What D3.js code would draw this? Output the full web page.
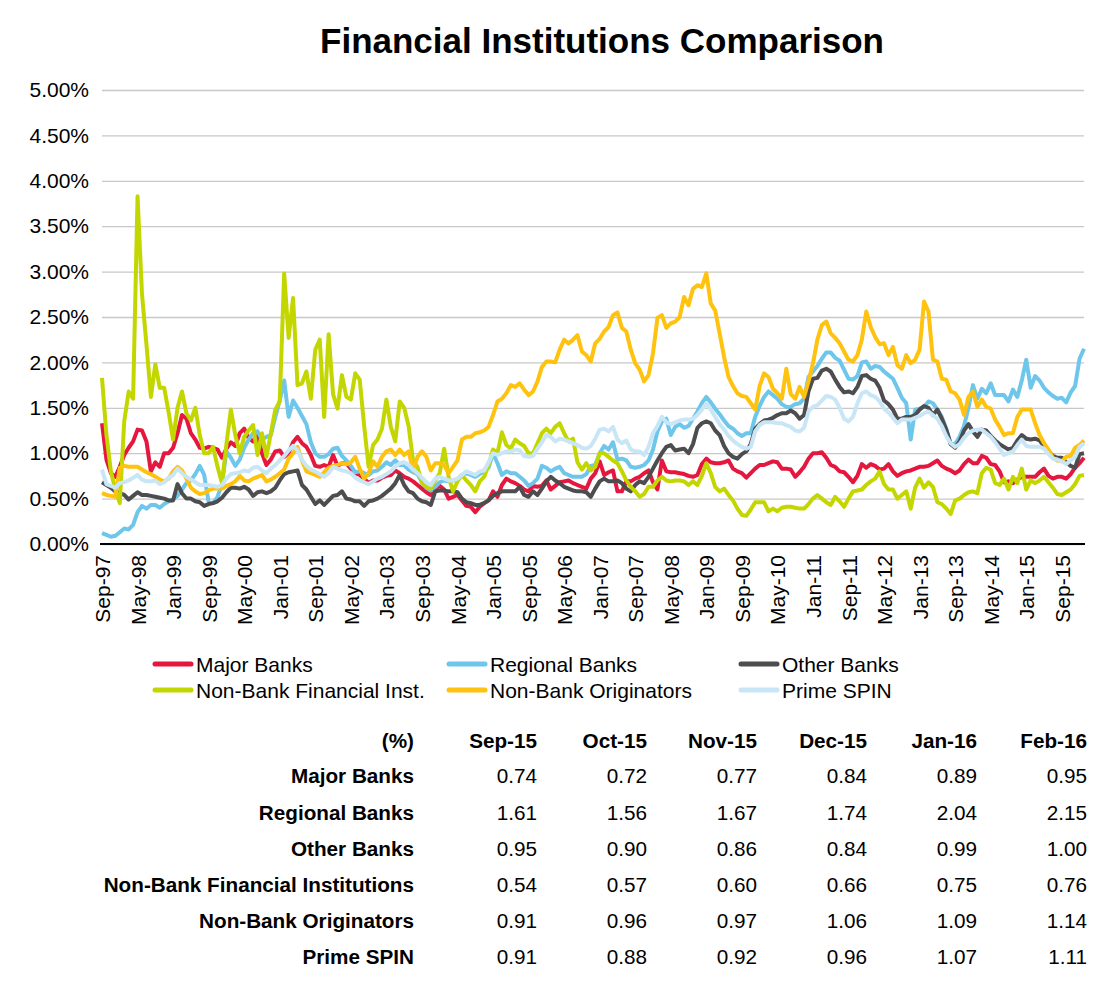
<!DOCTYPE html>
<html>
<head>
<meta charset="utf-8">
<script src="https://cdn.jsdelivr.net/npm/d3@7"></script>
<style>
  body { margin: 0; background: #fff; }
  svg { font-family: "Liberation Sans", Arial, sans-serif; }
</style>
</head>
<body>
<div id="chart"></div>
<script>
/*
 * Monthly values (%), Sep-97 .. Feb-16.
 */
var majorBanks = [
  1.33,0.93,0.78,0.74,0.85,0.98,1.06,1.13,1.26,1.25,
  1.13,0.80,0.90,0.85,1.00,1.00,1.06,1.22,1.42,1.38,
  1.22,1.15,1.06,1.05,1.07,1.06,1.04,0.95,1.05,1.12,
  1.08,1.22,1.27,1.17,1.13,1.19,1.00,0.87,0.93,1.02,
  1.03,0.96,1.00,1.12,1.18,1.11,1.07,0.98,0.86,0.85,
  0.87,0.85,0.98,0.86,0.89,0.89,0.83,0.78,0.76,0.72,
  0.67,0.70,0.70,0.73,0.75,0.76,0.81,0.78,0.74,0.72,
  0.69,0.65,0.61,0.57,0.54,0.61,0.64,0.60,0.50,0.52,
  0.54,0.48,0.42,0.41,0.35,0.41,0.45,0.48,0.58,0.52,
  0.65,0.72,0.69,0.67,0.64,0.60,0.58,0.64,0.63,0.64,
  0.70,0.60,0.64,0.68,0.69,0.70,0.67,0.65,0.63,0.61,
  0.72,0.78,0.91,0.76,0.79,0.81,0.58,0.58,0.69,0.69,
  0.72,0.74,0.78,0.81,0.68,0.60,0.92,0.80,0.79,0.79,
  0.78,0.77,0.75,0.74,0.76,0.88,0.94,0.90,0.89,0.89,
  0.90,0.92,0.83,0.80,0.78,0.73,0.78,0.83,0.87,0.87,
  0.89,0.91,0.90,0.83,0.83,0.82,0.74,0.79,0.85,0.94,
  1.00,1.00,1.01,0.95,0.87,0.85,0.80,0.79,0.74,0.68,
  0.75,0.88,0.84,0.88,0.86,0.82,0.83,0.88,0.80,0.75,
  0.78,0.80,0.81,0.83,0.85,0.85,0.86,0.89,0.92,0.86,
  0.83,0.81,0.78,0.81,0.88,0.93,0.89,0.89,0.97,0.95,
  0.88,0.87,0.80,0.68,0.69,0.67,0.71,0.74,0.74,0.74,
  0.74,0.79,0.83,0.75,0.72,0.74,0.74,0.72,0.77,0.84,
  0.89,0.95
];

var regionalBanks = [
  0.12,0.10,0.08,0.09,0.13,0.17,0.16,0.21,0.35,0.42,
  0.39,0.43,0.43,0.40,0.44,0.47,0.49,0.53,0.60,0.67,
  0.70,0.77,0.86,0.76,0.46,0.45,0.52,0.66,1.02,0.95,
  0.86,0.93,1.06,1.15,1.22,1.24,1.15,1.18,1.20,1.40,
  1.58,1.80,1.40,1.58,1.50,1.41,1.32,1.12,1.00,0.96,
  0.96,0.99,1.05,1.06,0.97,0.92,0.86,0.79,0.80,0.78,
  0.76,0.80,0.81,0.85,0.90,0.87,0.92,0.87,0.87,0.82,
  0.79,0.77,0.68,0.62,0.59,0.63,0.68,0.70,0.69,0.70,
  0.71,0.76,0.78,0.76,0.74,0.77,0.80,0.84,1.00,0.89,
  0.76,0.80,0.78,0.78,0.74,0.70,0.64,0.67,0.72,0.86,
  0.84,0.80,0.83,0.85,0.78,0.76,0.74,0.74,0.74,0.77,
  0.86,0.87,1.00,1.08,1.04,1.12,0.93,0.94,0.92,0.85,
  0.84,0.85,0.87,0.92,1.04,1.24,1.35,1.38,1.20,1.29,
  1.32,1.28,1.30,1.38,1.46,1.55,1.62,1.56,1.49,1.43,
  1.36,1.30,1.27,1.22,1.19,1.22,1.22,1.40,1.52,1.62,
  1.68,1.64,1.60,1.54,1.51,1.51,1.54,1.55,1.60,1.84,
  1.90,1.96,2.04,2.11,2.11,2.05,2.02,1.92,1.82,1.81,
  1.85,2.00,2.01,1.93,1.96,1.95,1.90,1.86,1.82,1.72,
  1.61,1.55,1.15,1.48,1.49,1.51,1.57,1.55,1.48,1.40,
  1.27,1.10,1.10,1.18,1.30,1.50,1.75,1.60,1.71,1.66,
  1.77,1.64,1.64,1.64,1.57,1.70,1.62,1.80,2.03,1.72,
  1.85,1.80,1.72,1.67,1.63,1.60,1.61,1.56,1.67,1.74,
  2.04,2.15
];

var otherBanks = [
  0.68,0.65,0.62,0.58,0.56,0.54,0.49,0.53,0.57,0.54,
  0.54,0.53,0.52,0.51,0.50,0.48,0.48,0.66,0.56,0.50,
  0.50,0.47,0.46,0.42,0.44,0.45,0.47,0.51,0.57,0.62,
  0.62,0.61,0.63,0.60,0.53,0.57,0.58,0.56,0.58,0.62,
  0.70,0.77,0.79,0.80,0.81,0.65,0.60,0.52,0.44,0.48,
  0.43,0.48,0.53,0.54,0.58,0.50,0.49,0.47,0.47,0.42,
  0.47,0.48,0.50,0.53,0.57,0.61,0.67,0.76,0.65,0.58,
  0.56,0.50,0.47,0.46,0.43,0.58,0.59,0.59,0.58,0.58,
  0.57,0.50,0.46,0.45,0.43,0.43,0.45,0.48,0.53,0.56,
  0.58,0.58,0.58,0.58,0.63,0.54,0.52,0.58,0.54,0.61,
  0.69,0.74,0.70,0.67,0.63,0.61,0.59,0.58,0.58,0.57,
  0.52,0.61,0.69,0.72,0.69,0.69,0.70,0.67,0.61,0.58,
  0.65,0.69,0.67,0.74,0.83,0.92,1.00,1.07,1.09,1.03,
  1.04,1.05,1.00,1.10,1.28,1.33,1.35,1.33,1.25,1.20,
  1.08,1.00,0.96,0.94,0.99,1.02,1.10,1.27,1.32,1.36,
  1.37,1.39,1.42,1.44,1.44,1.47,1.44,1.38,1.42,1.68,
  1.82,1.83,1.91,1.93,1.90,1.81,1.73,1.67,1.68,1.66,
  1.73,1.85,1.86,1.82,1.80,1.72,1.58,1.54,1.48,1.38,
  1.38,1.40,1.40,1.42,1.48,1.52,1.50,1.42,1.48,1.38,
  1.26,1.10,1.06,1.13,1.25,1.32,1.24,1.18,1.26,1.25,
  1.19,1.14,1.10,1.07,1.04,1.06,1.14,1.20,1.16,1.15,
  1.16,1.14,1.08,1.02,0.97,0.95,0.95,0.90,0.86,0.84,
  0.99,1.00
];

var nonBankFinancial = [
  1.83,1.20,0.80,0.60,0.45,1.35,1.68,1.60,3.83,2.75,
  2.20,1.62,1.98,1.72,1.72,1.45,1.15,1.50,1.68,1.44,
  1.36,1.50,1.20,1.00,1.00,1.07,0.85,0.67,1.10,1.48,
  1.20,1.00,1.18,1.25,1.31,0.98,1.22,0.96,1.22,1.48,
  1.57,2.98,2.27,2.71,1.75,1.77,1.90,1.60,2.14,2.25,
  1.40,2.31,1.65,1.49,1.86,1.62,1.59,1.88,1.81,1.30,
  0.85,1.09,1.15,1.27,1.59,1.29,1.13,1.57,1.50,1.30,
  0.92,0.85,0.67,0.63,0.61,0.70,0.78,1.05,0.74,0.58,
  0.69,0.76,0.70,0.65,0.58,0.69,0.74,0.87,1.04,1.00,
  1.23,1.09,1.05,1.15,1.11,1.08,1.00,1.00,1.11,1.22,
  1.27,1.22,1.29,1.33,1.22,1.13,1.16,0.90,0.82,0.89,
  0.81,0.85,1.00,1.00,0.96,0.92,0.89,0.80,0.70,0.63,
  0.58,0.52,0.55,0.63,0.63,0.70,0.74,0.70,0.69,0.70,
  0.70,0.69,0.65,0.69,0.65,0.75,0.89,0.78,0.63,0.58,
  0.61,0.54,0.48,0.39,0.32,0.31,0.38,0.46,0.46,0.46,
  0.36,0.39,0.36,0.40,0.41,0.41,0.40,0.39,0.39,0.44,
  0.50,0.54,0.50,0.46,0.43,0.52,0.47,0.41,0.50,0.58,
  0.59,0.60,0.65,0.69,0.72,0.80,0.66,0.60,0.60,0.50,
  0.54,0.58,0.39,0.62,0.72,0.62,0.68,0.63,0.46,0.44,
  0.39,0.33,0.48,0.50,0.54,0.57,0.58,0.56,0.78,0.84,
  0.82,0.67,0.65,0.72,0.60,0.74,0.67,0.83,0.60,0.70,
  0.67,0.70,0.74,0.68,0.62,0.55,0.54,0.57,0.60,0.66,
  0.75,0.76
];

var nonBankOriginators = [
  0.56,0.54,0.53,0.52,0.84,0.86,0.85,0.85,0.85,0.82,
  0.79,0.77,0.74,0.71,0.69,0.72,0.80,0.85,0.81,0.72,
  0.62,0.58,0.55,0.56,0.59,0.61,0.61,0.61,0.64,0.66,
  0.69,0.75,0.70,0.69,0.72,0.74,0.76,0.69,0.71,0.74,
  0.78,0.82,0.94,1.00,1.07,0.92,0.80,0.78,0.76,0.74,
  0.79,0.84,0.86,0.87,0.89,0.88,0.90,0.96,0.83,0.72,
  0.78,0.91,0.85,0.96,1.02,1.04,0.98,1.04,0.98,1.02,
  0.81,0.96,1.02,0.96,0.81,0.89,0.89,0.87,0.78,0.85,
  0.92,1.15,1.18,1.18,1.22,1.23,1.25,1.29,1.42,1.57,
  1.60,1.66,1.75,1.73,1.77,1.70,1.64,1.68,1.79,1.95,
  2.01,2.01,2.00,2.14,2.25,2.21,2.25,2.30,2.12,2.08,
  2.01,2.21,2.26,2.34,2.39,2.52,2.55,2.38,2.34,2.14,
  1.99,1.92,1.79,1.86,2.10,2.49,2.52,2.38,2.43,2.45,
  2.50,2.72,2.63,2.81,2.85,2.83,2.98,2.65,2.57,2.32,
  2.06,1.84,1.74,1.66,1.63,1.62,1.55,1.48,1.74,1.88,
  1.84,1.71,1.66,1.60,1.93,1.65,1.60,1.73,1.62,1.79,
  1.99,2.25,2.41,2.45,2.32,2.27,2.21,2.12,2.03,2.01,
  2.08,2.25,2.56,2.39,2.28,2.20,2.21,2.08,2.17,1.97,
  1.93,2.08,1.99,2.03,2.14,2.67,2.56,2.03,2.01,1.82,
  1.81,1.68,1.66,1.59,1.42,1.62,1.68,1.51,1.59,1.51,
  1.49,1.37,1.29,1.20,1.22,1.22,1.40,1.48,1.48,1.48,
  1.33,1.20,1.11,1.04,0.95,0.92,0.91,0.96,0.97,1.06,
  1.09,1.14
];

var primeSpin = [
  0.82,0.66,0.64,0.62,0.67,0.68,0.70,0.73,0.76,0.71,
  0.69,0.69,0.70,0.66,0.68,0.73,0.76,0.83,0.78,0.74,
  0.71,0.68,0.65,0.65,0.65,0.64,0.63,0.65,0.72,0.77,
  0.78,0.79,0.81,0.80,0.84,0.85,0.81,0.78,0.83,0.87,
  0.92,0.97,1.03,1.08,1.03,0.93,0.86,0.82,0.80,0.77,
  0.74,0.78,0.85,0.83,0.81,0.80,0.78,0.73,0.70,0.68,
  0.66,0.69,0.72,0.74,0.77,0.80,0.85,0.89,0.90,0.87,
  0.82,0.78,0.73,0.68,0.65,0.72,0.74,0.72,0.70,0.70,
  0.72,0.76,0.80,0.78,0.76,0.80,0.81,0.90,1.00,0.98,
  1.00,1.02,1.02,1.04,1.03,0.97,0.96,0.97,1.05,1.12,
  1.20,1.18,1.13,1.16,1.15,1.13,1.11,1.09,1.06,1.05,
  1.08,1.16,1.26,1.27,1.24,1.29,1.15,1.11,1.14,1.04,
  1.02,1.02,0.98,1.07,1.22,1.30,1.40,1.34,1.32,1.34,
  1.36,1.37,1.37,1.38,1.42,1.48,1.55,1.48,1.40,1.32,
  1.26,1.19,1.14,1.10,1.07,1.05,1.07,1.24,1.31,1.34,
  1.34,1.34,1.33,1.33,1.31,1.29,1.25,1.24,1.28,1.46,
  1.51,1.53,1.58,1.63,1.62,1.59,1.50,1.38,1.35,1.40,
  1.55,1.66,1.68,1.64,1.62,1.57,1.49,1.45,1.39,1.33,
  1.37,1.37,1.37,1.39,1.41,1.44,1.46,1.42,1.38,1.30,
  1.19,1.11,1.07,1.10,1.17,1.22,1.25,1.26,1.26,1.22,
  1.18,1.12,1.05,0.98,1.00,1.02,1.09,1.15,1.08,1.07,
  1.07,1.07,1.05,0.99,0.94,0.93,0.91,0.88,0.92,0.96,
  1.07,1.11
];

/*
 * Names, colours and ticks.
 */
var legendNames = ['Major Banks', 'Regional Banks', 'Other Banks',
                   'Non-Bank Financial Inst.', 'Non-Bank Originators', 'Prime SPIN'];
var tableNames = ['Major Banks', 'Regional Banks', 'Other Banks',
                  'Non-Bank Financial Institutions', 'Non-Bank Originators', 'Prime SPIN'];
var colors = ['#E5173F', '#6EC6EB', '#4D4D4F', '#C4D600', '#FFC20E', '#C8E6F6'];
var yTicks = [0, 0.5, 1, 1.5, 2, 2.5, 3, 3.5, 4, 4.5, 5];
var xTickEvery = 8;

var series = [majorBanks, regionalBanks, otherBanks,
              nonBankFinancial, nonBankOriginators, primeSpin];

var months = d3.timeMonth.range(new Date(1997, 8, 1), new Date(2016, 2, 1))
  , fmtMonth = d3.timeFormat('%b-%y')
  , width = 1109
  , height = 993;

var svg = d3.select('#chart').append('svg')
  .attr('width', width)
  .attr('height', height);

var x = d3.scalePoint()
  .domain(d3.range(months.length))
  .range([102, 1084]);

var y = d3.scaleLinear()
  .domain([0, 5])
  .range([544, 90]);

// title
svg.append('text')
  .attr('x', 602)
  .attr('y', 53)
  .attr('text-anchor', 'middle')
  .style('font-size', '35px')
  .style('font-weight', 'bold')
  .text('Financial Institutions Comparison');

// y axis with gridlines
var yAxis = svg.append('g')
  .attr('transform', 'translate(102,0)')
  .call(d3.axisLeft(y)
    .tickValues(yTicks)
    .tickSize(-982)
    .tickPadding(13)
    .tickFormat(function(d) { return d.toFixed(2) + '%'; }));

yAxis.select('.domain').remove();
yAxis.selectAll('line')
  .attr('stroke', '#C8C8C8')
  .attr('stroke-width', 1.3);
yAxis.selectAll('text')
  .style('font-size', '21px')
  .attr('fill', '#000');

// x axis
var xAxis = svg.append('g')
  .attr('transform', 'translate(0,' + y(0) + ')')
  .call(d3.axisBottom(x)
    .tickValues(d3.range(0, months.length, xTickEvery))
    .tickSize(0)
    .tickFormat(function(i) { return fmtMonth(months[i]); }));

xAxis.select('.domain').remove();
xAxis.selectAll('text')
  .attr('transform', 'rotate(-90)')
  .attr('x', -11)
  .attr('y', 0)
  .attr('dy', '0.36em')
  .style('text-anchor', 'end')
  .style('font-size', '21px')
  .attr('fill', '#000');

// lines
var line = d3.line()
  .x(function(d, i) { return x(i); })
  .y(function(d) { return y(d); });

svg.append('g').selectAll('path')
  .data(series)
  .enter()
  .append('path')
  .attr('d', line)
  .attr('fill', 'none')
  .attr('stroke', function(d, i) { return colors[i]; })
  .attr('stroke-width', 4)
  .attr('stroke-linejoin', 'round');

// zero axis line on top
svg.append('line')
  .attr('x1', 100)
  .attr('x2', 1085)
  .attr('y1', y(0))
  .attr('y2', y(0))
  .attr('stroke', '#000')
  .attr('stroke-width', 2.2);

// legend
var legendCols = [155, 449, 741]
  , legendRows = [664, 690];

var legend = svg.append('g').selectAll('g')
  .data(legendNames)
  .enter()
  .append('g')
  .attr('transform', function(d, i) {
    return 'translate(' + legendCols[i % 3] + ',' + legendRows[Math.floor(i / 3)] + ')';
  });

legend.append('line')
  .attr('x1', 0)
  .attr('x2', 36)
  .attr('stroke', function(d, i) { return colors[i]; })
  .attr('stroke-width', 5)
  .attr('stroke-linecap', 'round');

legend.append('text')
  .attr('x', 41)
  .attr('dy', '0.36em')
  .style('font-size', '21px')
  .text(function(d) { return d; });

// table
var tableMonths = months.slice(-6).map(fmtMonth)
  , colRight = [537, 647, 757, 867, 977, 1087]
  , labelRight = 414
  , headerY = 748
  , rowY = [783, 820, 856, 892, 928, 964];

var table = svg.append('g').style('font-size', '20.7px');

table.append('text')
  .attr('x', labelRight)
  .attr('y', headerY)
  .attr('text-anchor', 'end')
  .style('font-weight', 'bold')
  .text('(%)');

table.selectAll('.head')
  .data(tableMonths)
  .enter()
  .append('text')
  .attr('class', 'head')
  .attr('x', function(d, i) { return colRight[i]; })
  .attr('y', headerY)
  .attr('text-anchor', 'end')
  .style('font-weight', 'bold')
  .text(function(d) { return d; });

var rows = table.selectAll('.row')
  .data(series)
  .enter()
  .append('g')
  .attr('class', 'row')
  .attr('transform', function(d, i) { return 'translate(0,' + rowY[i] + ')'; });

rows.append('text')
  .attr('x', labelRight)
  .attr('text-anchor', 'end')
  .style('font-weight', 'bold')
  .text(function(d, i) { return tableNames[i]; });

rows.selectAll('.val')
  .data(function(d) { return d.slice(-6); })
  .enter()
  .append('text')
  .attr('class', 'val')
  .attr('x', function(d, i) { return colRight[i]; })
  .attr('text-anchor', 'end')
  .text(function(d) { return d.toFixed(2); });
</script>
</body>
</html>
